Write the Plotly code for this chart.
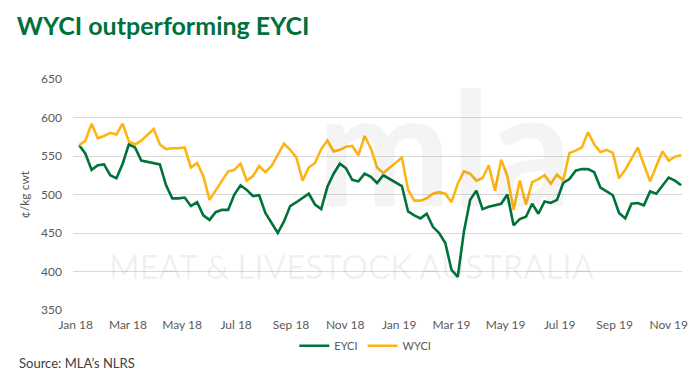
import pandas as pd
import plotly.graph_objects as go

# Weekly sale dates (two Christmas-break weeks have no values)
start_date = "2018-01-05"
n_weeks = 98
dates = pd.date_range(start_date, periods=n_weeks, freq="7D")

eyci = [564, 553, 532, 538, 539, 525, 521, 540, 565, 561,
        544, 542, 541, 539, 512, 495, 495, 496, 485, 490,
        473, 467, 477, 480, 480, 500, 512, 506, 498, 499,
        476, 463, 450, 465, 485, 490, 496, 501, 487, 481,
        510, 527, 540, 534, 519, 517, 527, 523, 515, 525,
        None, None, 511, 478, 473, 469, 475, 458, 450, 437,
        402, 393, 452, 493, 505, 481, 484, 486, 488, 500,
        460, 468, 471, 488, 475, 491, 489, 493, 515, 520,
        531, 533, 533, 529, 509, 504, 499, 476, 469, 488,
        489, 486, 504, 501, 512, 522, 518, 512]

wyci = [564, 570, 592, 573, 576, 580, 578, 592, 569, 565,
        570, 577, 585, 565, 559, 560, 560, 561, 535, 541,
        524, 493, 505, 518, 530, 532, 540, 518, 524, 537,
        529, 537, 552, 566, 558, 548, 518, 535, 541, 559,
        570, 556, 558, 562, 563, 551, 576, 560, 535, 528,
        None, None, 548, 506, 492, 492, 495, 501, 503, 501,
        490, 514, 530, 527, 518, 521, 538, 505, 545, 524,
        480, 518, 487, 516, 520, 525, 514, 526, 518, 554,
        557, 561, 581, 565, 555, 558, 554, 521, 532, 546,
        561, 539, 517, 537, 556, 544, 549, 551]

y_ticks = [350, 400, 450, 500, 550, 600, 650]

GREEN = "#00733B"
YELLOW = "#FDB515"
FONT = "Lato"

fig = go.Figure()
fig.add_trace(go.Scatter(x=dates, y=eyci, name="EYCI", mode="lines",
                         line=dict(color=GREEN, width=2.6), connectgaps=True))
fig.add_trace(go.Scatter(x=dates, y=wyci, name="WYCI", mode="lines",
                         line=dict(color=YELLOW, width=2.6), connectgaps=True))

# faint watermark
fig.add_annotation(text="<b>mla</b>", xref="paper", yref="paper", x=0.61, y=0.294,
                   showarrow=False, font=dict(family=FONT, size=160, color="rgba(0,0,0,0.045)"),
                   xanchor="center", yanchor="bottom")
fig.add_annotation(text="MEAT &amp; LIVESTOCK AUSTRALIA", xref="paper", yref="paper",
                   x=0.458, y=0.286, showarrow=False,
                   font=dict(family=FONT, size=33, color="rgba(0,0,0,0.06)"),
                   xanchor="center", yanchor="top")

fig.add_annotation(text="Source: MLA’s NLRS", xref="paper", yref="paper",
                   x=-0.092, y=-0.23, xanchor="left", yanchor="middle", showarrow=False,
                   font=dict(family=FONT, size=13, color="#404040"))

fig.update_layout(
    width=700, height=387,
    margin=dict(l=73, r=18, t=79, b=77),
    paper_bgcolor="white", plot_bgcolor="white",
    title=dict(text="<b>WYCI outperforming EYCI</b>", x=0.024, xanchor="left",
               y=0.933, yanchor="middle",
               font=dict(family=FONT, size=25, color="#00703C")),
    font=dict(family=FONT, size=12, color="#595959"),
    showlegend=True,
    legend=dict(orientation="h", x=0.48, xanchor="center", y=-0.155, yanchor="middle",
                font=dict(family=FONT, size=11, color="#595959"), itemwidth=30,
                bgcolor="rgba(0,0,0,0)"),
    xaxis=dict(range=["2017-12-29", "2019-11-16"], dtick="M2", tick0="2018-01-01",
               tickformat="%b %y", showgrid=False, zeroline=False, showline=False,
               ticks="", ticklabelstandoff=6,
               tickfont=dict(family=FONT, size=12, color="#595959")),
    yaxis=dict(range=[350, 650], tickvals=y_ticks, showgrid=True, gridcolor="#D9D9D9",
               gridwidth=1, zeroline=False, showline=False, ticks="",
               ticklabelstandoff=10,
               title=dict(text="¢/kg cwt", standoff=8,
                          font=dict(family=FONT, size=12, color="#595959")),
               tickfont=dict(family=FONT, size=12, color="#595959")),
)

fig.write_html("out.html", config={"displayModeBar": False},
               post_script="document.body.style.margin='0';")
